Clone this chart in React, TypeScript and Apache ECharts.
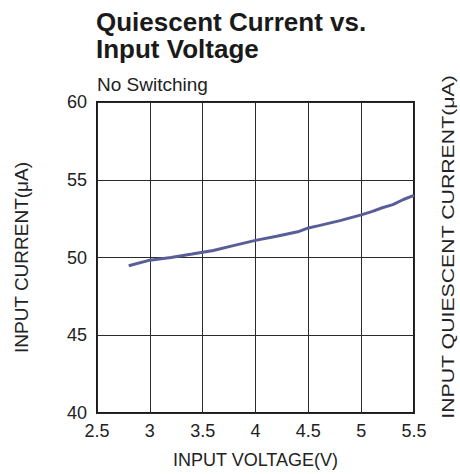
import React, { useEffect, useRef } from "react";
import * as echarts from "echarts";

const voltage = [2.8, 3.0, 3.2, 3.4, 3.6, 3.8, 4.0, 4.2, 4.4, 4.5, 4.6, 4.8, 5.0, 5.1, 5.2, 5.3, 5.4, 5.5];
const current = [49.47, 49.83, 50.0, 50.22, 50.45, 50.78, 51.1, 51.37, 51.65, 51.9, 52.05, 52.37, 52.74, 52.95, 53.2, 53.4, 53.73, 54.0];

const titleText = "Quiescent Current vs.\nInput Voltage";
const subtitleText = "No Switching";
const xName = "INPUT VOLTAGE(V)";
const yName = "INPUT CURRENT(μA)";
const rightName = "INPUT QUIESCENT CURRENT(μA)";

const FONT = "'Liberation Sans', Arial, Helvetica, sans-serif";
const TEXT = "#222";

export default function App() {
  const ref = useRef<HTMLDivElement>(null);
  useEffect(() => {
    if (!ref.current) return;
    const chart = echarts.init(ref.current, null, { renderer: "svg" });
    chart.setOption({
      animation: false,
      backgroundColor: "#fff",
      textStyle: { fontFamily: FONT },
      title: [
        {
          text: titleText,
          left: 96,
          top: 8,
          padding: 0,
          textStyle: { fontFamily: FONT, fontSize: 26, fontWeight: "bold", color: "#1a1a1a", lineHeight: 27 },
        },
        {
          text: subtitleText,
          left: 97,
          top: 75,
          padding: 0,
          textStyle: { fontFamily: FONT, fontSize: 19, fontWeight: "normal", color: TEXT, lineHeight: 19 },
        },
      ],
      grid: {
        left: 97,
        right: 46,
        top: 102,
        bottom: 56,
        show: true,
        borderColor: "#1a1a1a",
        borderWidth: 2,
        backgroundColor: "transparent",
      },
      xAxis: {
        type: "value",
        min: 2.5,
        max: 5.5,
        interval: 0.5,
        name: xName,
        nameLocation: "middle",
        nameGap: 38,
        nameTextStyle: { fontFamily: FONT, fontSize: 18, color: TEXT },
        axisLine: { show: false },
        axisTick: { show: false },
        axisLabel: { fontFamily: FONT, fontSize: 18, color: TEXT, margin: 9 },
        splitLine: { show: true, lineStyle: { color: "#2a2a2a", width: 1 } },
      },
      yAxis: {
        type: "value",
        min: 40,
        max: 60,
        interval: 5,
        name: yName,
        nameLocation: "middle",
        nameGap: 66,
        nameRotate: 90,
        nameTextStyle: { fontFamily: FONT, fontSize: 19, color: TEXT },
        axisLine: { show: false },
        axisTick: { show: false },
        axisLabel: { fontFamily: FONT, fontSize: 18, color: TEXT, margin: 10 },
        splitLine: { show: true, lineStyle: { color: "#2a2a2a", width: 1 } },
      },
      graphic: [
        {
          type: "text",
          x: 448,
          y: 247,
          rotation: Math.PI / 2,
          scaleX: 1.33,
          style: {
            text: rightName,
            font: `normal 16px ${FONT}`,
            fill: TEXT,
            textAlign: "center",
            textVerticalAlign: "middle",
          },
        },
      ],
      series: [
        {
          type: "line",
          data: voltage.map((v, i) => [v, current[i]]),
          showSymbol: false,
          symbol: "none",
          lineStyle: { color: "#5a5e98", width: 3 },
          z: 5,
        },
      ],
    });
    return () => chart.dispose();
  }, []);
  return <div ref={ref} style={{ width: 460, height: 474, position: "absolute", left: 0, top: 0 }} />;
}
